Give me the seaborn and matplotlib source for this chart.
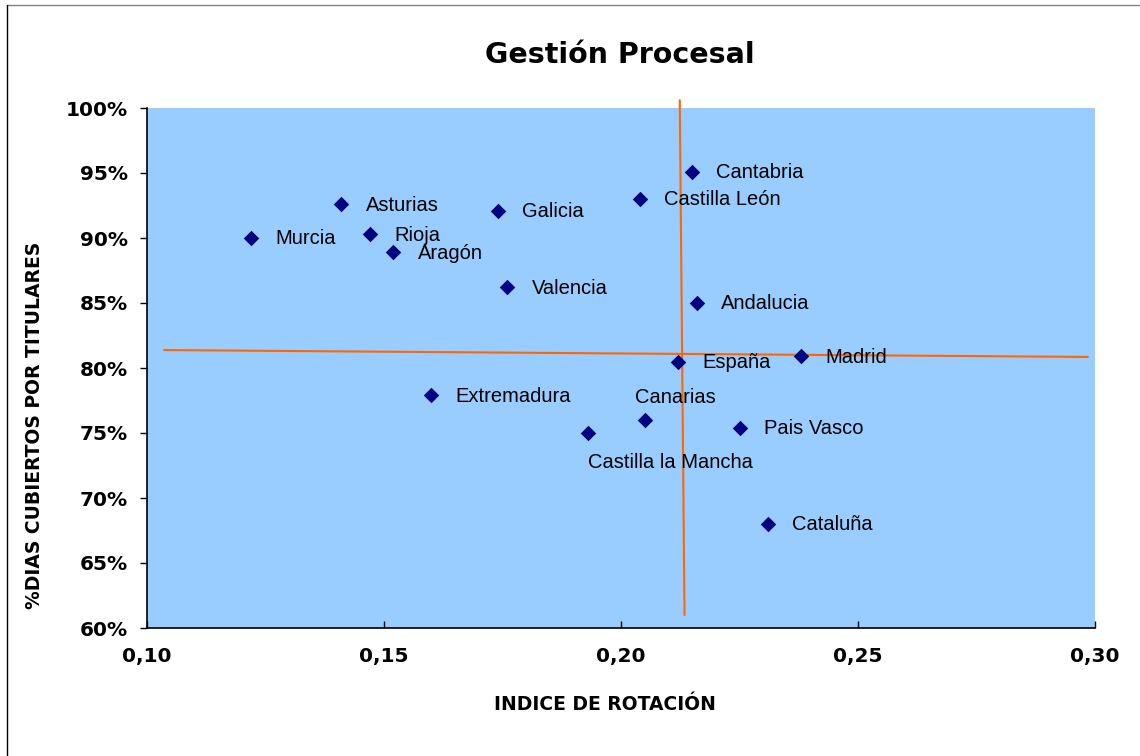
import matplotlib
matplotlib.use("Agg")
import matplotlib.pyplot as plt
import seaborn as sns
import pandas as pd
from matplotlib.lines import Line2D
from matplotlib.ticker import FuncFormatter

# Data
regions = ["Murcia", "Asturias", "Rioja", "Aragón", "Galicia", "Valencia",
           "Castilla León", "Cantabria", "Andalucia", "España", "Madrid",
           "Extremadura", "Canarias", "Castilla la Mancha", "Pais Vasco", "Cataluña"]
rotacion = [0.122, 0.141, 0.147, 0.152, 0.174, 0.176,
            0.204, 0.215, 0.216, 0.212, 0.238,
            0.160, 0.205, 0.193, 0.225, 0.231]
cubiertos = [90.0, 92.6, 90.3, 88.9, 92.1, 86.2,
             93.0, 95.1, 85.0, 80.5, 80.9,
             77.9, 76.0, 75.0, 75.4, 68.0]
# reference (orange) lines: endpoints
vline_x = [0.2124, 0.2134]
vline_y = [100.6, 61.0]
hline_x = [0.1036, 0.2985]
hline_y = [81.38, 80.85]

xticks = [0.10, 0.15, 0.20, 0.25, 0.30]
yticks = [60, 65, 70, 75, 80, 85, 90, 95, 100]

sns.set_theme(style="white")
plt.rcParams['font.family'] = ['DejaVu Sans']
plt.rcParams['text.color'] = 'black'
plt.rcParams['axes.labelcolor'] = 'black'
plt.rcParams['xtick.color'] = 'black'
plt.rcParams['ytick.color'] = 'black'

fig = plt.figure(figsize=(11.4, 7.56), dpi=100)
ax = fig.add_axes([147/1140, 1-628/756, (1095-147)/1140, (628-108)/756])
ax.set_facecolor('#99CCFF')

df = pd.DataFrame({"region": regions, "x": rotacion, "y": cubiertos})
sns.scatterplot(data=df, x="x", y="y", marker="D", color="#000080", s=62,
                linewidth=0, ax=ax, zorder=3)

ax.plot(vline_x, vline_y, color="#FF6600", lw=1.5, clip_on=False, zorder=2)
ax.plot(hline_x, hline_y, color="#FF6600", lw=1.5, clip_on=False, zorder=2)

offsets = {"Canarias": (-7, 16.5, 'left', 'center'),
           "Castilla la Mancha": (0, -21, 'left', 'center')}
for r, x, y in zip(regions, rotacion, cubiertos):
    dx, dy, ha, va = offsets.get(r, (17.5, -0.7, 'left', 'center'))
    ax.annotate(r, (x, y), xytext=(dx, dy), textcoords='offset points',
                ha=ha, va=va, fontsize=14.5, family='Liberation Sans',
                color='black', zorder=4)

ax.set_xlim(0.10, 0.30)
ax.set_ylim(60, 100)
ax.set_xticks(xticks)
ax.set_yticks(yticks)
ax.xaxis.set_major_formatter(FuncFormatter(lambda v, p: f"{v:.2f}".replace('.', ',')))
ax.yaxis.set_major_formatter(FuncFormatter(lambda v, p: f"{v:.0f}%"))
for sp in ['top', 'right']:
    ax.spines[sp].set_visible(False)
for sp in ['left', 'bottom']:
    ax.spines[sp].set_color('black')
    ax.spines[sp].set_linewidth(1.2)
ax.tick_params(axis='y', direction='out', length=5, width=1, color='black',
               labelsize=14.5, pad=9, left=True, labelcolor='black')
ax.tick_params(axis='x', direction='in', length=5, width=1, color='black',
               labelsize=14.5, pad=14, bottom=True, labelcolor='black')
for lbl in ax.get_xticklabels() + ax.get_yticklabels():
    lbl.set_fontweight('bold')

ax.set_xlabel("")
ax.set_ylabel("")
fig.text(605/1140, 1-705/756, "INDICE DE ROTACIÓN", ha='center', va='center',
         fontsize=13.5, fontweight='bold', color='black')
fig.text(35/1140, 1-425/756, "%DIAS CUBIERTOS POR TITULARES", ha='center', va='center',
         rotation=90, fontsize=13.5, fontweight='bold', color='black')
fig.text(620/1140, 1-55/756, "Gestión Procesal", ha='center', va='center',
         fontsize=20.5, fontweight='bold', color='black')

# chart border (top and left)
fig.add_artist(Line2D([7/1140, 1], [1-5/756, 1-5/756], color='#808080', lw=1,
                      transform=fig.transFigure))
fig.add_artist(Line2D([7/1140, 7/1140], [0, 1-5/756], color='black', lw=1,
                      transform=fig.transFigure))

fig.savefig("out.png", dpi=100)
